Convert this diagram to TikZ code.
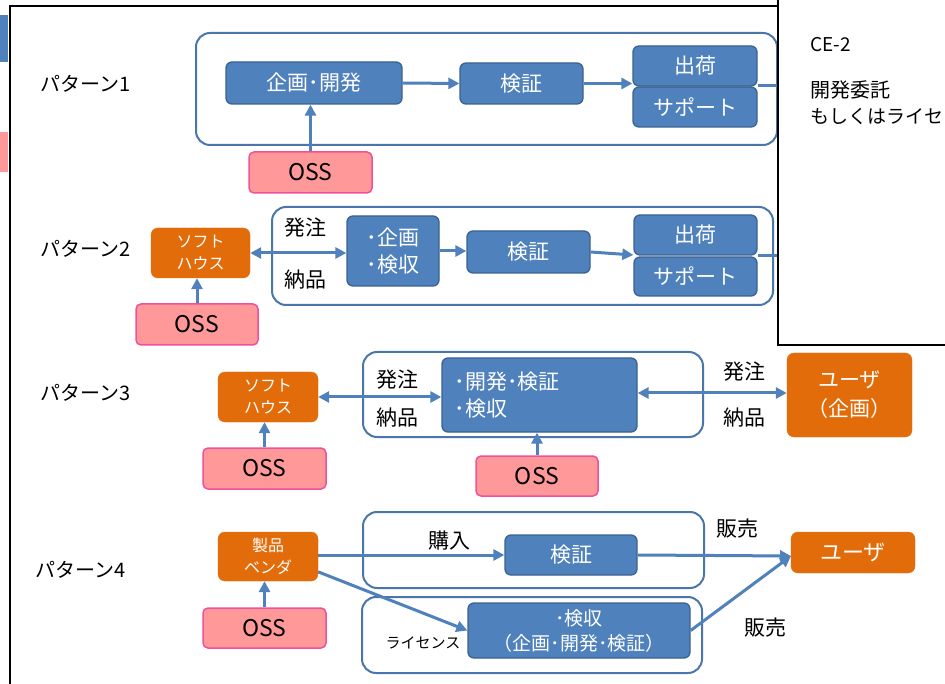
\documentclass[tikz,border=0pt]{standalone}
\usepackage{fontspec}
\setmainfont{Noto Sans CJK JP}
\usetikzlibrary{arrows.meta}
\definecolor{bblue}{HTML}{4F81BD}
\definecolor{bborder}{HTML}{3B6190}
\definecolor{oblue}{HTML}{4A76AC}
\definecolor{aorange}{HTML}{E36C0A}
\definecolor{opink}{HTML}{FF9999}
\definecolor{pborder}{HTML}{F0509A}
\tikzset{
 blk/.style={draw=bborder, fill=bblue, line width=1.3pt, rounded corners=6pt, text=white, inner sep=0pt, font=\fontsize{21}{27}\selectfont},
 outerbox/.style={draw=oblue, line width=2pt, rounded corners=14pt, inner sep=0pt},
 ossbox/.style={draw=pborder, fill=opink, line width=1.5pt, rounded corners=5pt, inner sep=0pt, font=\fontsize{23}{26}\selectfont},
 orgbox/.style={fill=aorange, draw=aorange, rounded corners=7pt, text=white, inner sep=0pt, align=center},
 lbl/.style={font=\fontsize{21}{24}\selectfont, inner sep=0pt},
 plbl/.style={font=\fontsize{20}{24}\selectfont, inner sep=0pt, anchor=west},
 arr/.style={draw=bblue, line width=3pt, -{Triangle[length=11pt,width=11pt]}},
 darr/.style={draw=bblue, line width=3pt, {Triangle[length=11pt,width=11pt]}-{Triangle[length=11pt,width=11pt]}},
 plainline/.style={draw=bblue, line width=3pt},
}
\newcommand\mybox[7]{\node[#6, minimum width={(#4-#2)*1pt}, minimum height={(#5-#3)*1pt}] (#1) at ({(#2+#4)/2},{(#3+#5)/2}) {#7};}
\begin{document}
\begin{tikzpicture}[x=1pt,y=-1pt]
\useasboundingbox (0,0) rectangle (945,684);
\fill[white] (0,0) rectangle (945,684);
% background fragments
\fill[bblue] (-2,15) rectangle (8,62);
\fill[opink] (-2,132) rectangle (8,172);
% main frame
\draw[line width=1.5pt] (10,690) -- (10,6) -- (790,6);

% ---------- pattern 1
\node[plbl] (p1) at (40,84) {パターン1};
\mybox{o1}{196}{33}{777}{145}{outerbox}{}
\mybox{kd1}{226}{62}{402}{104}{blk}{企画･開発}
\mybox{kv1}{460}{63}{583}{104}{blk}{検証}
\mybox{sh1}{633}{46}{757}{86}{blk}{出荷}
\mybox{sp1}{633}{87}{757}{127}{blk}{サポート}
\mybox{oss1}{249}{152}{372}{193}{ossbox}{OSS}
\coordinate (out1) at (800,86);
\draw[arr] (oss1.north) -- (oss1.north |- kd1.south);
\draw[arr] (kd1.east) -- (kv1.west);
\draw[arr] (kv1.east) -- (kv1.east -| sp1.west);
\draw[plainline] (sp1.east |- out1) -- (out1);

% ---------- pattern 2
\node[plbl] (p2) at (40,249) {パターン2};
\mybox{o2}{272}{207}{773}{305}{outerbox}{}
\mybox{sf2}{151}{228}{250}{278}{orgbox, font=\fontsize{16}{22}\selectfont}{ソフト\\ハウス}
\mybox{oss2}{136}{304}{258}{345}{ossbox}{OSS}
\mybox{kk2}{347}{216}{439}{286}{blk, align=left}{･企画\\･検収}
\mybox{kv2}{467}{231}{590}{273}{blk}{検証}
\mybox{sh2}{634}{215}{757}{255}{blk}{出荷}
\mybox{sp2}{634}{257}{757}{296}{blk}{サポート}
\node[lbl] (h2) at (305,228) {発注};
\node[lbl] (n2) at (305,280) {納品};
\coordinate (out2) at (800,256);
\draw[arr] (oss2.north) -- (oss2.north |- sf2.south);
\draw[darr] (sf2.east) -- (sf2.east -| kk2.west);
\draw[arr] (kk2.east) -- (kk2.east -| kv2.west);
\draw[arr] (kv2.east) -- ([yshift=-3pt]kv2.east -| sp2.west);
\draw[plainline] (sp2.east |- out2) -- (out2);

% ---------- pattern 3
\node[plbl] (p3) at (40,393) {パターン3};
\mybox{o3}{363}{352}{703}{437}{outerbox}{}
\mybox{sf3}{218}{372}{318}{422}{orgbox, font=\fontsize{16}{22}\selectfont}{ソフト\\ハウス}
\mybox{oss3a}{203}{448}{326}{489}{ossbox}{OSS}
\node[blk, text width=170pt, align=left, inner xsep=12pt, minimum width=195pt, minimum height=74pt] (kk3) at (539.5,395) {･開発･検証\\･検収};
\mybox{us3}{787}{353}{912}{437}{orgbox, font=\fontsize{21}{29}\selectfont}{ユーザ\\（企画）}
\mybox{oss3b}{476}{456}{598}{496}{ossbox}{OSS}
\node[lbl] (h3a) at (397,380) {発注};
\node[lbl] (n3a) at (397,418) {納品};
\node[lbl] (h3b) at (744,372) {発注};
\node[lbl] (n3b) at (744,418) {納品};
\draw[arr] (oss3a.north) -- (oss3a.north |- sf3.south);
\draw[darr] (sf3.east) -- (sf3.east -| kk3.west);
\draw[darr] ([yshift=2pt]kk3.east) -- ([yshift=2pt]kk3.east -| us3.west);
\draw[arr] (oss3b.north) -- (oss3b.north |- kk3.south);

% ---------- pattern 4
\node[plbl] (p4) at (35,570) {パターン4};
\mybox{o4a}{363}{512}{704}{588}{outerbox}{}
\mybox{o4b}{362}{597}{702}{673}{outerbox}{}
\mybox{vd4}{218}{532}{318}{581}{orgbox, font=\fontsize{16}{22}\selectfont}{製品\\ベンダ}
\mybox{oss4}{203}{608}{326}{648}{ossbox}{OSS}
\mybox{kv4}{505}{535}{637}{575}{blk}{検証}
\mybox{us4}{791}{532}{915}{573}{orgbox, font=\fontsize{22}{26}\selectfont}{ユーザ}
\mybox{kk4}{468}{603}{690}{658}{blk, align=center, font=\fontsize{19}{25}\selectfont}{･検収\\（企画･開発･検証）}
\node[lbl] (b4) at (449,541) {購入};
\node[lbl] (s4a) at (737,529) {販売};
\node[lbl, font=\fontsize{15}{18}\selectfont] (l4) at (423,643) {ライセンス};
\node[lbl] (s4b) at (765,628) {販売};
\coordinate (u4) at (791,556);
\draw[arr] (oss4.north) -- (oss4.north |- vd4.south);
\draw[arr] (vd4.east |- kv4.west) -- (kv4.west);
\draw[arr] (vd4.-17) -- (kk4.west);
\draw[arr] (kv4.east) -- (u4);
\draw[arr] (kk4.east) -- (u4);

% ---------- overlapping panel
\fill[white] (778,-2) rectangle (947,345);
\draw[line width=1.5pt] (778,-2) -- (778,345) -- (947,345);
\node[anchor=west, inner sep=0pt, font=\fontsize{19}{22}\selectfont] (ce) at (810,45) {CE-2};
\node[anchor=west, inner sep=0pt, font=\fontsize{20}{24}\selectfont] (t1) at (810,90) {開発委託};
\node[anchor=west, inner sep=0pt, font=\fontsize{19}{24}\selectfont] (t2) at (810,116) {もしくはライセ};
\end{tikzpicture}
\end{document}
